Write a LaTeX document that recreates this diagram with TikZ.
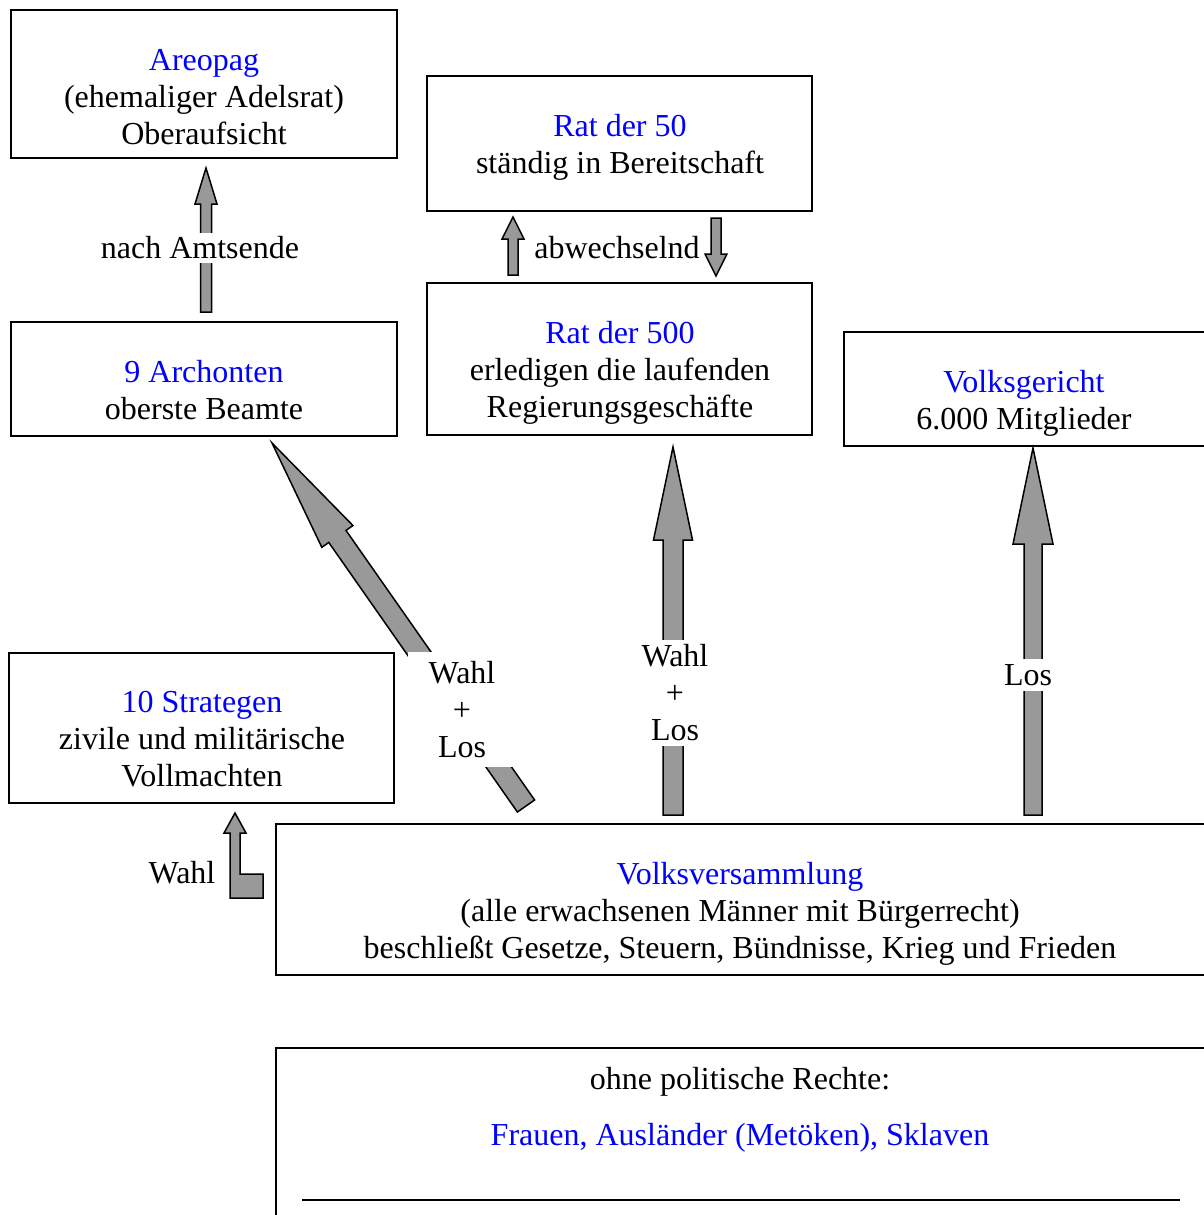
\documentclass[tikz,border=0pt]{standalone}
\usepackage{fontspec}
\setmainfont{Liberation Serif}
\usetikzlibrary{calc}
\definecolor{arrowgray}{RGB}{153,153,153}
\definecolor{tblue}{RGB}{0,0,255}
\newcommand\fatarrow[5]{%
  \pgfpointdiff{\pgfpointanchor{#1}{center}}{\pgfpointanchor{#2}{center}}%
  \pgfgetlastxy{\fadx}{\fady}%
  \pgfmathsetmacro\faang{atan2(\fady,\fadx)}%
  \pgfmathsetmacro\falen{veclen(\fadx,\fady)}%
  \draw[fatarr, shift={(#1)}, rotate=\faang]
    (0,-#3/2) -- ({\falen-#5},-#3/2) -- ({\falen-#5},-#4/2) -- (\falen,0)
    -- ({\falen-#5},#4/2) -- ({\falen-#5},#3/2) -- (0,#3/2) -- cycle;
}
\begin{document}
\begin{tikzpicture}[x=1pt,y=-1pt,
  box/.style={draw=black, line width=1.5pt, fill=none, inner sep=0pt},
  txt/.style={align=center, font=\fontsize{32}{37}\selectfont, inner sep=0pt},
  lbl/.style={align=center, font=\fontsize{32}{37}\selectfont, fill=white, inner xsep=2pt, inner ysep=4pt},
  fatarr/.style={draw=black, line width=1.5pt, fill=arrowgray, line join=miter}]
\useasboundingbox (0,0) rectangle (1203,1215);
\fill[white] (0,0) rectangle (1203,1215);

% boxes
\node[box, minimum width=386pt, minimum height=148pt] (areo) at (204,84) {};
\node[box, minimum width=385pt, minimum height=135pt] (r50) at (619.5,143.5) {};
\node[box, minimum width=386pt, minimum height=114pt] (arch) at (204,379) {};
\node[box, minimum width=385pt, minimum height=152pt] (r500) at (619.5,359) {};
\node[box, minimum width=390pt, minimum height=114pt] (vg) at (1039,389) {};
\node[box, minimum width=385pt, minimum height=150pt] (str) at (201.5,728) {};
\node[box, minimum width=950pt, minimum height=151pt] (vv) at (751,899.5) {};
\node[box, minimum width=950pt, minimum height=200pt] (ohne) at (751,1148) {};

% texts
\node[txt] (areoT) at (204,97) {\textcolor{tblue}{Areopag}\\(ehemaliger Adelsrat)\\Oberaufsicht};
\node[txt] (r50T) at (620,147.5) {\textcolor{tblue}{Rat der 50}\\ständig in Bereitschaft};
\node[txt] (archT) at (204,390.5) {\textcolor{tblue}{9 Archonten}\\oberste Beamte};
\node[txt] (r500T) at (620,373) {\textcolor{tblue}{Rat der 500}\\erledigen die laufenden\\Regierungsgeschäfte};
\node[txt] (vgT) at (1024,403.5) {\textcolor{tblue}{Volksgericht}\\6.000 Mitglieder};
\node[txt] (strT) at (202,739.5) {\textcolor{tblue}{10 Strategen}\\zivile und militärische\\Vollmachten};
\node[txt] (vvT) at (740,914) {\textcolor{tblue}{Volksversammlung}\\(alle erwachsenen Männer mit Bürgerrecht)\\beschließt Gesetze, Steuern, Bündnisse, Krieg und Frieden};
\node[txt] (ohne1) at (740,1082) {ohne politische Rechte:};
\node[txt, text=tblue] (ohne2) at (740,1138) {Frauen, Ausländer (Metöken), Sklaven};
\node[inner sep=0pt] (ohne3) at (741,1200) {\rule{878pt}{1.3pt}};

% arrow end points
\coordinate (a1s) at (206,312); \coordinate (a1e) at (206,168);
\coordinate (a2s) at (513,275); \coordinate (a2e) at (513,217);
\coordinate (a3s) at (716,218); \coordinate (a3e) at (716,276);
\coordinate (a4s) at (526,806); \coordinate (a4e) at (272,443);
\coordinate (a5s) at (673,815); \coordinate (a5e) at (673,447);
\coordinate (a6s) at (1033,815); \coordinate (a6e) at (1033,448);

\fatarrow{a1s}{a1e}{11}{22}{36}
\fatarrow{a2s}{a2e}{10}{22}{22}
\fatarrow{a3s}{a3e}{10}{22}{22}
\fatarrow{a4s}{a4e}{21}{38}{114}
\fatarrow{a5s}{a5e}{20}{39}{93}
\fatarrow{a6s}{a6e}{18}{40}{96}

% L-shaped arrow
\draw[fatarr] (230,898) -- (230,833) -- (224,833) -- (235,813) -- (246,833) -- (240,833)
  -- (240,874) -- (263,874) -- (263,898) -- cycle;

% labels
\node[lbl] (l1) at (200,248) {nach Amtsende};
\node[lbl, fill=none] (l2) at (617,248) {abwechselnd};
\node[lbl, inner sep=0pt, minimum width=108pt, minimum height=115pt] (l3) at (462,709.5) {Wahl\\+\\Los};
\node[lbl, inner ysep=5pt] (l4) at (675,693) {Wahl\\+\\Los};
\node[lbl, inner ysep=5pt] (l5) at (1028,675) {Los};
\node[lbl, fill=none] (l6) at (182,873) {Wahl};
\end{tikzpicture}
\end{document}
